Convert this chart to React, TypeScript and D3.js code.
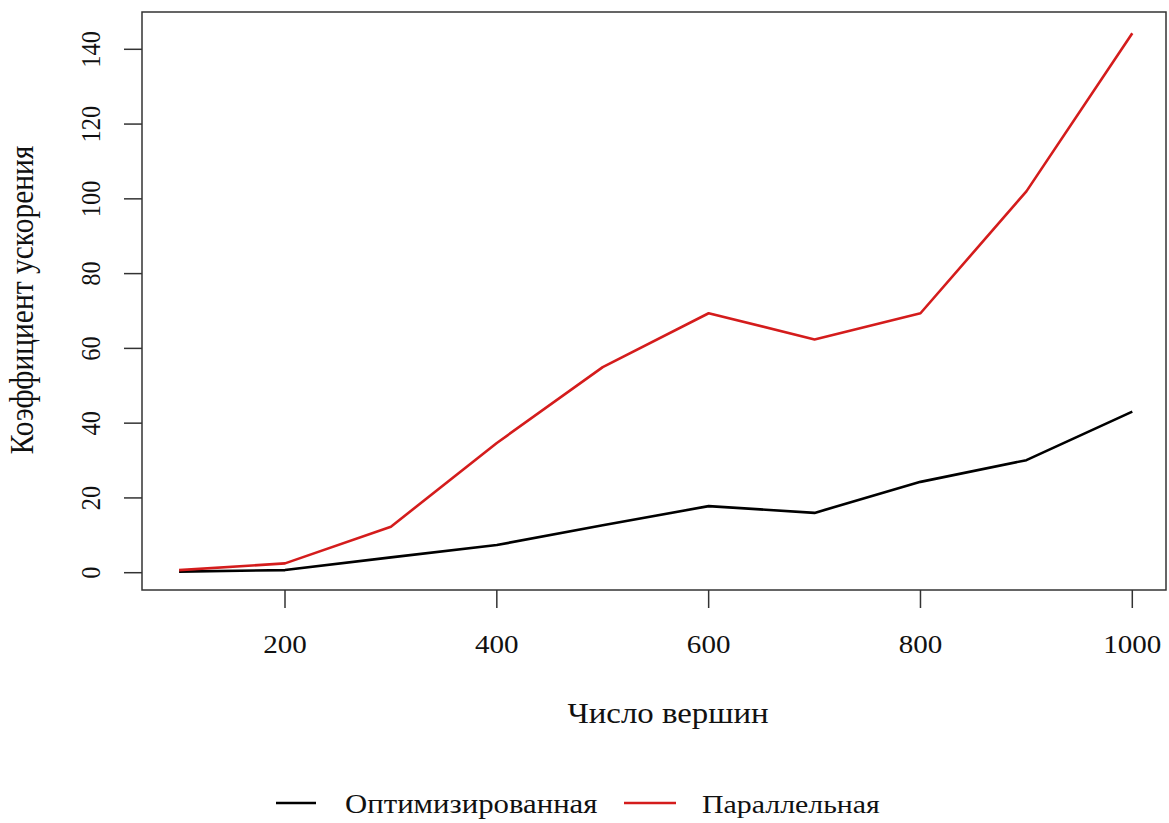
import React from "react";
import * as d3 from "d3";

const xValues = [100, 200, 300, 400, 500, 600, 700, 800, 900, 1000];
const optimized = [0.3, 0.7, 4.1, 7.4, 12.7, 17.8, 16.0, 24.3, 30.1, 43.1];
const parallel = [0.7, 2.5, 12.3, 34.7, 55.0, 69.4, 62.4, 69.4, 102.0, 144.3];
const xTicks = [200, 400, 600, 800, 1000];
const yTicks = [0, 20, 40, 60, 80, 100, 120, 140];
const seriesNames = ["Оптимизированная", "Параллельная"];
const seriesColors = ["#000000", "#d41c1c"];

const W = 1169;
const H = 823;
const box = { left: 142, right: 1166, top: 12, bottom: 590 };
const FONT = "'Liberation Serif', 'Times New Roman', serif";
const SX = 1.14;

export default function App() {
  const x = d3.scaleLinear().domain([200, 1000]).range([285, 1132.3]);
  const y = d3.scaleLinear().domain([0, 140]).range([572.7, 49.3]);
  const line = d3
    .line<number>()
    .x((_, i) => x(xValues[i]))
    .y((d) => y(d));
  const series = [optimized, parallel];
  const axisColor = "#333";

  const hText = (tx: number, ty: number, s: string, fs: number, anchor: string = "middle") => (
    <text
      transform={`translate(${tx},${ty}) scale(${SX},1)`}
      textAnchor={anchor}
      fontFamily={FONT}
      fontSize={fs}
      fill="#111"
    >
      {s}
    </text>
  );
  const vText = (tx: number, ty: number, s: string, fs: number) => (
    <text
      transform={`translate(${tx},${ty}) scale(${SX},1) rotate(-90)`}
      textAnchor="middle"
      fontFamily={FONT}
      fontSize={fs}
      fill="#111"
    >
      {s}
    </text>
  );

  return (
    <svg
      width={W}
      height={H}
      style={{ position: "absolute", left: 0, top: 0, background: "#fff" }}
    >
      <rect x={0} y={0} width={W} height={H} fill="#fff" />
      <rect
        x={box.left}
        y={box.top}
        width={box.right - box.left}
        height={box.bottom - box.top}
        fill="none"
        stroke={axisColor}
        strokeWidth={1.5}
      />
      {xTicks.map((t) => (
        <g key={"x" + t}>
          <line x1={x(t)} x2={x(t)} y1={box.bottom} y2={box.bottom + 18} stroke={axisColor} strokeWidth={1.5} />
          {hText(x(t), 653, String(t), 25.5)}
        </g>
      ))}
      {yTicks.map((t) => (
        <g key={"y" + t}>
          <line x1={box.left - 18} x2={box.left} y1={y(t)} y2={y(t)} stroke={axisColor} strokeWidth={1.5} />
          {vText(100, y(t), String(t), 24.5)}
        </g>
      ))}
      {series.map((s, i) => (
        <path
          key={"s" + i}
          d={line(s) || ""}
          fill="none"
          stroke={seriesColors[i]}
          strokeWidth={2.6}
          strokeLinejoin="round"
        />
      ))}
      {hText(668, 723, "Число вершин", 28.8)}
      {vText(33, 300, "Коэффициент ускорения", 29.5)}
      <line x1={276} x2={316} y1={803} y2={803} stroke={seriesColors[0]} strokeWidth={2.6} />
      {hText(345, 813, seriesNames[0], 27, "start")}
      <line x1={624} x2={676} y1={803} y2={803} stroke={seriesColors[1]} strokeWidth={2.6} />
      {hText(702, 813, seriesNames[1], 26.2, "start")}
    </svg>
  );
}
